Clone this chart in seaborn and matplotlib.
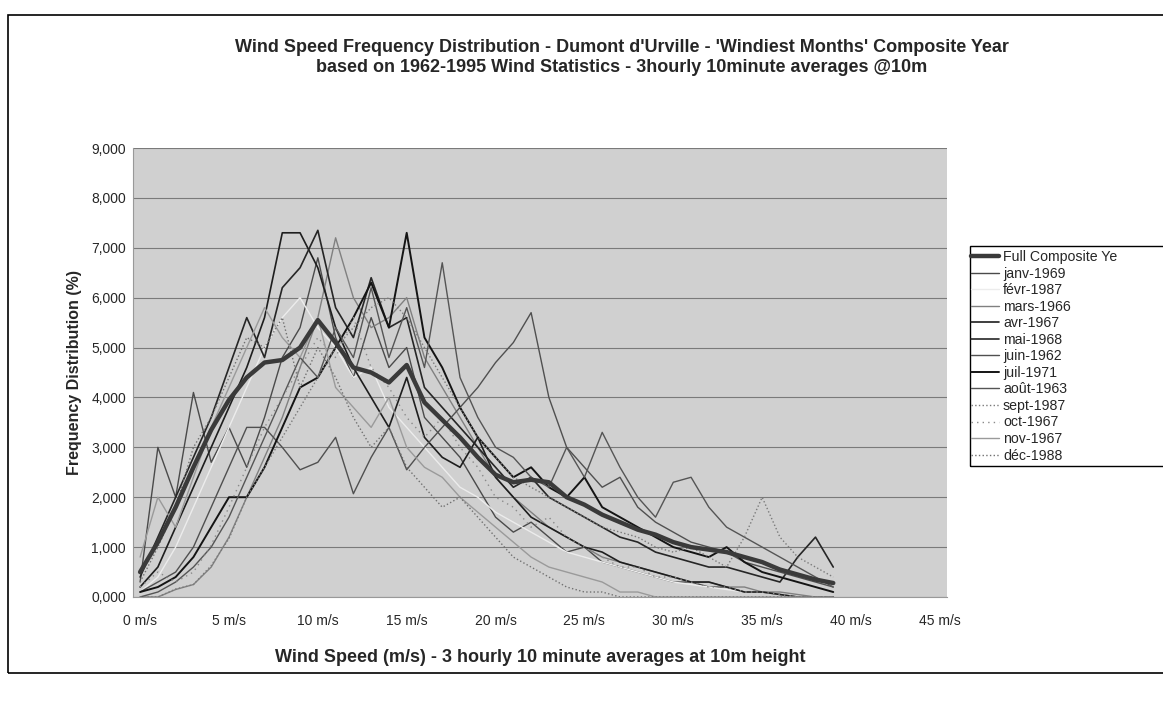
import pandas as pd
import seaborn as sns
import matplotlib.pyplot as plt
from matplotlib.patches import Rectangle

# wind speed classes (m/s) and frequency (%) per month
speeds = list(range(0, 40))

composite = [0.50, 1.10, 1.80, 2.60, 3.35, 3.95, 4.40, 4.70, 4.75, 5.00,
             5.55, 5.10, 4.60, 4.50, 4.30, 4.65, 3.90, 3.55, 3.20, 2.80,
             2.45, 2.30, 2.35, 2.30, 2.00, 1.85, 1.65, 1.50, 1.35, 1.25,
             1.10, 1.00, 0.95, 0.90, 0.80, 0.70, 0.55, 0.45, 0.35, 0.28]
janv = [0.30, 3.00, 2.00, 4.10, 2.70, 3.40, 2.60, 3.60, 4.80, 5.40,
        6.80, 5.20, 4.40, 5.60, 4.60, 5.00, 3.60, 3.20, 2.80, 2.20,
        1.60, 1.30, 1.50, 1.20, 0.90, 1.00, 0.70, 0.60, 0.50, 0.40,
        0.30, 0.30, 0.20, 0.20, 0.10, 0.10, 0.05, 0.00, 0.00, 0.00]
fevr = [0.10, 0.40, 1.00, 1.80, 2.60, 3.40, 4.20, 5.00, 5.60, 6.00,
        5.40, 5.00, 4.40, 4.60, 3.80, 3.40, 3.00, 2.60, 2.20, 2.00,
        1.70, 1.50, 1.30, 1.10, 0.90, 0.80, 0.70, 0.60, 0.50, 0.40,
        0.30, 0.25, 0.20, 0.15, 0.10, 0.10, 0.05, 0.00, 0.00, 0.00]
mars = [0.00, 0.00, 0.15, 0.25, 0.60, 1.20, 2.00, 2.80, 3.60, 4.60,
        5.60, 7.20, 6.00, 5.40, 5.60, 6.00, 4.80, 4.20, 3.60, 3.00,
        2.40, 2.00, 1.70, 1.40, 1.20, 1.00, 0.80, 0.70, 0.60, 0.50,
        0.40, 0.30, 0.30, 0.20, 0.20, 0.10, 0.10, 0.05, 0.00, 0.00]
avr = [0.20, 0.60, 1.40, 2.20, 3.00, 3.80, 4.60, 5.60, 7.30, 7.30,
       6.60, 5.40, 4.60, 4.00, 3.40, 4.40, 3.20, 2.80, 2.60, 3.20,
       2.40, 2.00, 1.60, 1.40, 1.20, 1.00, 0.90, 0.70, 0.60, 0.50,
       0.40, 0.30, 0.30, 0.20, 0.10, 0.10, 0.05, 0.00, 0.00, 0.00]
mai = [0.40, 1.20, 2.00, 2.80, 3.60, 4.60, 5.60, 4.80, 6.20, 6.60,
       7.35, 5.80, 5.20, 6.40, 5.40, 5.60, 4.20, 3.80, 3.40, 3.00,
       2.60, 2.20, 2.40, 2.00, 1.80, 1.60, 1.40, 1.20, 1.10, 0.90,
       0.80, 0.70, 0.60, 0.60, 0.50, 0.40, 0.30, 0.80, 1.20, 0.60]
juin = [0.10, 0.30, 0.50, 1.00, 1.80, 2.60, 3.40, 3.40, 3.00, 2.55,
        2.70, 3.20, 2.07, 2.80, 3.40, 2.55, 3.00, 3.40, 3.80, 4.20,
        4.70, 5.10, 5.70, 4.00, 3.00, 2.60, 2.20, 2.40, 1.80, 1.50,
        1.30, 1.10, 1.00, 0.90, 0.70, 0.60, 0.50, 0.40, 0.30, 0.20]
juil = [0.10, 0.20, 0.40, 0.80, 1.40, 2.00, 2.00, 2.60, 3.40, 4.20,
        4.40, 5.00, 5.60, 6.30, 5.40, 7.30, 5.20, 4.60, 3.80, 3.20,
        2.80, 2.40, 2.60, 2.20, 2.00, 2.40, 1.80, 1.60, 1.40, 1.20,
        1.00, 0.90, 0.80, 1.00, 0.70, 0.50, 0.40, 0.30, 0.20, 0.10]
aout = [0.00, 0.10, 0.30, 0.60, 1.00, 1.60, 2.40, 3.20, 4.00, 4.80,
        4.40, 5.40, 4.80, 6.20, 4.80, 5.80, 4.60, 6.70, 4.40, 3.60,
        3.00, 2.80, 2.40, 2.20, 3.00, 2.40, 3.30, 2.60, 2.00, 1.60,
        2.30, 2.40, 1.80, 1.40, 1.20, 1.00, 0.80, 0.60, 0.40, 0.20]
sept = [0.00, 0.00, 0.16, 0.25, 0.63, 1.17, 2.00, 2.60, 3.20, 3.80,
        4.40, 5.00, 5.40, 5.80, 6.00, 5.60, 5.00, 4.40, 3.80, 3.20,
        2.80, 2.40, 2.20, 2.00, 1.80, 1.60, 1.40, 1.30, 1.20, 1.00,
        0.90, 1.00, 0.80, 0.60, 1.20, 2.00, 1.20, 0.80, 0.60, 0.40]
octo = [0.20, 0.50, 0.30, 0.50, 1.04, 1.80, 2.60, 3.40, 4.00, 4.60,
        5.20, 4.80, 5.60, 4.60, 4.20, 3.60, 3.20, 3.60, 3.00, 2.60,
        2.00, 1.80, 1.40, 1.60, 1.20, 1.00, 0.80, 0.60, 0.60, 0.40,
        0.40, 0.30, 0.20, 0.20, 0.10, 0.10, 0.05, 0.00, 0.00, 0.00]
nov = [0.80, 2.00, 1.40, 2.40, 3.40, 4.20, 5.00, 5.80, 5.20, 4.80,
       5.60, 4.20, 3.80, 3.40, 4.00, 3.00, 2.60, 2.40, 2.00, 1.70,
       1.40, 1.10, 0.80, 0.60, 0.50, 0.40, 0.30, 0.10, 0.10, 0.00,
       0.00, 0.00, 0.00, 0.00, 0.00, 0.00, 0.00, 0.00, 0.00, 0.00]
dec = [0.30, 1.00, 1.80, 3.00, 3.60, 4.40, 5.20, 5.00, 5.60, 4.20,
       5.00, 4.40, 3.60, 3.00, 3.40, 2.60, 2.20, 1.80, 2.00, 1.60,
       1.20, 0.80, 0.60, 0.40, 0.20, 0.10, 0.10, 0.00, 0.00, 0.00,
       0.00, 0.00, 0.00, 0.00, 0.00, 0.00, 0.00, 0.00, 0.00, 0.00]

labels = ["Full Composite Ye", "janv-1969", "févr-1987", "mars-1966", "avr-1967",
          "mai-1968", "juin-1962", "juil-1971", "août-1963", "sept-1987",
          "oct-1967", "nov-1967", "déc-1988"]
series = [composite, janv, fevr, mars, avr, mai, juin, juil, aout, sept, octo, nov, dec]

colors = ["#3a3a3a", "#4a4a4a", "#ececec", "#808080", "#1e1e1e", "#262626", "#505050",
          "#141414", "#555555", "#7a7a7a", "#8a8a8a", "#9a9a9a", "#707070"]
widths = [3.2, 1.0, 1.0, 1.0, 1.2, 1.2, 1.0, 1.4, 1.0, 1.0, 1.0, 1.0, 1.0]
styles = ["-", "-", "-", "-", "-", "-", "-", "-", "-", ":", (0, (1, 3)), "-", ":"]

sns.set_style("white")
plt.rcParams['font.family'] = ['Liberation Sans', 'DejaVu Sans']

W, H = 1163, 708
fig = plt.figure(figsize=(W / 100, H / 100), dpi=100)
ax = fig.add_axes([133 / W, (H - 597) / H, (947 - 133) / W, (597 - 148) / H])
ax.set_facecolor("#d0d0d0")

# months first, composite on top
order = list(range(1, len(series))) + [0]
for i in order:
    df = pd.DataFrame({"speed": speeds, "freq": series[i]})
    sns.lineplot(data=df, x="speed", y="freq", ax=ax, color=colors[i],
                 linewidth=widths[i], linestyle=styles[i], label=labels[i],
                 zorder=3 if i == 0 else 2)

ax.set_xlim(-0.4, 45.4)
ax.set_ylim(0, 9)
ax.set_xticks(range(0, 46, 5))
ax.set_xticklabels([f"{v} m/s" for v in range(0, 46, 5)], fontsize=10)
ax.set_yticks(range(0, 10))
ax.set_yticklabels([f"{v},000" for v in range(0, 10)], fontsize=10)
ax.grid(axis="y", color="#7a7a7a", linewidth=0.8)
ax.grid(axis="x", visible=False)
ax.tick_params(axis="x", length=3, color="#888888", pad=9)
ax.tick_params(axis="y", length=0, pad=5)
for side in ["top", "right"]:
    ax.spines[side].set_visible(False)
ax.spines["left"].set_color("#999999")
ax.spines["bottom"].set_color("#999999")

ax.set_xlabel("")
ax.set_ylabel("")
fig.text(540 / W, 1 - 658 / H, "Wind Speed (m/s) - 3 hourly 10 minute averages at 10m height",
         ha="center", va="center", fontsize=13, fontweight="bold")
fig.text(74 / W, 1 - 372 / H, "Frequency Distribution (%)", ha="center", va="center",
         rotation=90, fontsize=11.5, fontweight="bold")
fig.text(622 / W, 1 - 47 / H, "Wind Speed Frequency Distribution - Dumont d'Urville - 'Windiest Months' Composite Year",
         ha="center", va="center", fontsize=13, fontweight="bold")
fig.text(622 / W, 1 - 68 / H, "based on 1962-1995 Wind Statistics - 3hourly 10minute averages @10m",
         ha="center", va="center", fontsize=13, fontweight="bold")

handles, labs = ax.get_legend_handles_labels()
pairs = dict(zip(labs, handles))
ax.get_legend().remove()
fig.legend([pairs[l] for l in labels], labels, loc="upper left",
           bbox_to_anchor=(971 / W, 1 - 250 / H), fontsize=10.2,
           frameon=False, handlelength=2.0, handletextpad=0.25,
           labelspacing=0.18, borderpad=0.0, borderaxespad=0)

# legend box runs off the right edge, as in the clipped original
fig.patches.append(Rectangle((970 / W, 1 - 466 / H), 0.3, 220 / H, transform=fig.transFigure,
                             fill=False, edgecolor="black", linewidth=1.0))
# chart area frame
fig.patches.append(Rectangle((8 / W, 1 - 673 / H), 1.2, 658 / H, transform=fig.transFigure,
                             fill=False, edgecolor="black", linewidth=1.2))

plt.savefig("out.png", dpi=100, facecolor="w")
